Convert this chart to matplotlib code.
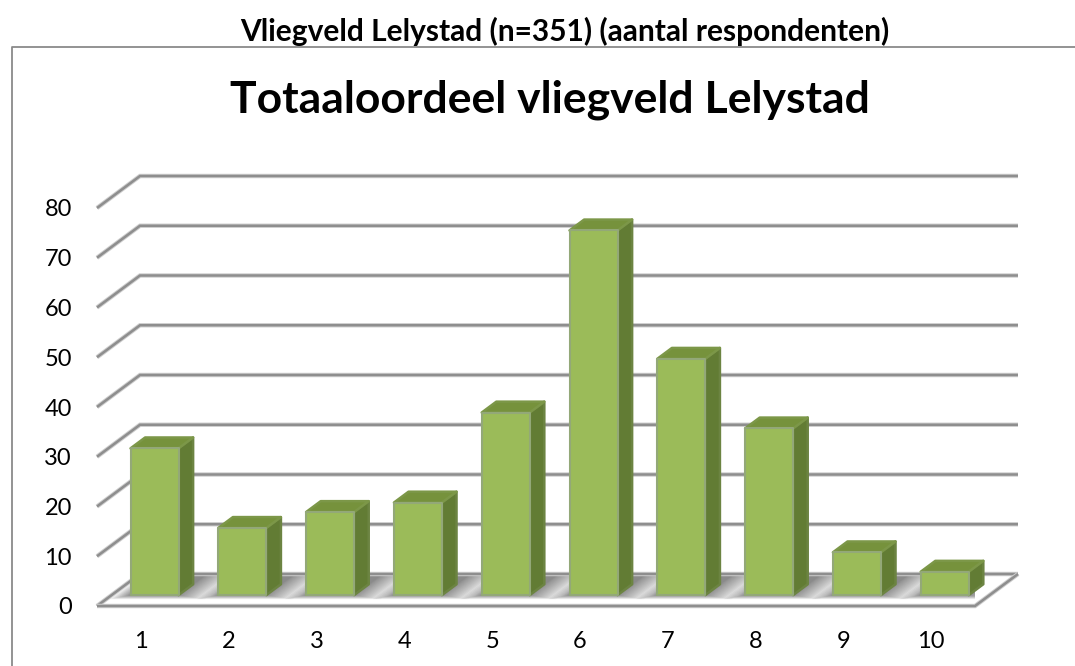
import matplotlib
matplotlib.use('Agg')
import matplotlib.pyplot as plt
import matplotlib.patheffects as pe
from matplotlib.lines import Line2D
from matplotlib.patches import Polygon

categories = ['1', '2', '3', '4', '5', '6', '7', '8', '9', '10']
values = [29.5, 13.5, 16.7, 18.6, 36.7, 73.3, 47.5, 33.5, 8.6, 4.7]
y_ticks = [0, 10, 20, 30, 40, 50, 60, 70, 80]

plt.rcParams['font.family'] = ['Lato', 'DejaVu Sans']

W, H = 1075.0, 666.0
fig = plt.figure(figsize=(W / 100, H / 100), dpi=100)
fig.patch.set_facecolor('white')

# front plane of the 3d box: 97..975 px across, 606..208 px down
ax = fig.add_axes([97 / W, 1 - 606 / H, 878 / W, 398 / H])
ax.set_xlim(0, 10)
ax.set_ylim(0, 80)
ax.patch.set_visible(False)
for s in ax.spines.values():
    s.set_visible(False)

DX = 43 / 87.8   # depth of the box, in category units
DY = 32 / 4.975  # depth of the box, in value units
BAR_W = 48 / 87.8
D0, D1 = 0.34, 0.68  # front and back of the bars inside the depth
OFFSET = 33.5 / 87.8 - D0 * DX  # left edge of a bar inside its slot

GRID = '#8e8e8e'
halo = [pe.withStroke(linewidth=3.2, foreground='#cfcfcf', capstyle='butt')]


def pt(x, y, d):
    return (x + d * DX, y + d * DY)


# floor
floor = Polygon([pt(0, 0, 0), pt(10, 0, 0), pt(10, 0, 1), pt(0, 0, 1)],
                closed=True, fc='white', ec='none', zorder=1, clip_on=False)
ax.add_patch(floor)

# soft shadows on the floor, layers get denser towards the bar
for i in range(len(values)):
    x0 = i + OFFSET
    for k in range(20):
        g = 0.36 * (1 - k / 20.0) ** 1.5
        p = Polygon([pt(x0 - g * 0.5, 0, D0 - 0.35 * g),
                     pt(x0 + BAR_W + g, 0, D0 - 0.35 * g),
                     pt(x0 + BAR_W + g, 0, 1),
                     pt(x0 - g * 0.5, 0, 1)],
                    closed=True, fc='#606060', ec='none', alpha=0.06,
                    zorder=2, clip_on=True)
        ax.add_patch(p)
        p.set_clip_path(floor)

# gridlines on side and back wall
for v in y_ticks:
    ax.plot([0, DX, 10 + DX], [v, v + DY, v + DY], color=GRID, lw=1.8, zorder=3,
            clip_on=False, solid_joinstyle='miter', solid_capstyle='butt',
            path_effects=halo)
# front and right edge of the floor
ax.plot([0, 10, 10 + DX], [0, 0, DY], color=GRID, lw=1.8, zorder=3,
        clip_on=False, solid_joinstyle='miter', solid_capstyle='butt',
        path_effects=halo)

# bars
for i, v in enumerate(values):
    x0 = i + OFFSET
    x1 = x0 + BAR_W
    side = [pt(x1, 0, D0), pt(x1, v, D0), pt(x1, v, D1), pt(x1, 0, D1)]
    top = [pt(x0, v, D0), pt(x1, v, D0), pt(x1, v, D1), pt(x0, v, D1)]
    front = [pt(x0, 0, D0), pt(x1, 0, D0), pt(x1, v, D0), pt(x0, v, D0)]
    ax.add_patch(Polygon(side, closed=True, fc='#627c34', ec='#6c8442', lw=1.8,
                         joinstyle='round', zorder=5, clip_on=False))
    ax.add_patch(Polygon(top, closed=True, fc='#76923c', ec='#7c9748', lw=1.8,
                         joinstyle='round', zorder=5, clip_on=False))
    ax.add_patch(Polygon(front, closed=True, fc='#9bbb59', ec='#93a878', lw=1.5,
                         joinstyle='round', zorder=6, clip_on=False))

ax.set_xticks([i + 0.5 for i in range(len(categories))])
ax.set_xticklabels(categories, fontsize=17, color='black')
ax.set_yticks(y_ticks)
ax.set_yticklabels([str(v) for v in y_ticks], fontsize=17, color='black',
                   va='center_baseline')
ax.tick_params(axis='both', length=0)
ax.tick_params(axis='x', pad=18)
ax.tick_params(axis='y', pad=18)

# frame of the chart (only left and top visible)
fig.add_artist(Line2D([11.5 / W, 11.5 / W, 1],
                      [0, 1 - 47 / H, 1 - 47 / H], color='#8a8a8a', lw=1.3))

fig.text(565 / W, 1 - 31 / H, 'Vliegveld Lelystad (n=351) (aantal respondenten)',
         ha='center', va='center', fontsize=21.5, fontweight='bold', color='black')
fig.text(550 / W, 1 - 100 / H, 'Totaaloordeel vliegveld Lelystad',
         ha='center', va='center', fontsize=32, fontweight='bold', color='black')

fig.savefig('out.png', dpi=100)
